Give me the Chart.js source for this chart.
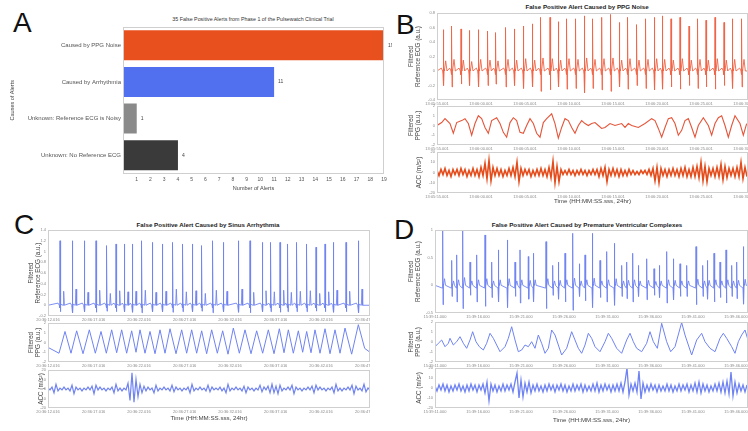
<!DOCTYPE html>
<html>
<head>
<meta charset="utf-8">
<script src="https://cdn.jsdelivr.net/npm/chart.js@4.4.1/dist/chart.umd.min.js"></script>
<style>
body { margin: 0; width: 748px; height: 431px; overflow: hidden; background: #fff; position: relative; font-family: "Liberation Sans", Arial, sans-serif; }
canvas { position: absolute; }
.letra { position: absolute; font-size: 28px; line-height: 1; color: #111; }
.titulo { position: absolute; font-size: 6.2px; line-height: 1; font-weight: bold; color: #222; white-space: nowrap; transform: translateX(-50%); }
</style>
</head>
<body>
<div class="letra" style="left:13px;top:9px">A</div>
<div class="letra" style="left:396px;top:11px">B</div>
<div class="letra" style="left:14px;top:211px">C</div>
<div class="letra" style="left:394px;top:216px">D</div>

<div class="titulo" style="left:253px;top:17px;font-weight:normal;font-size:5.3px;color:#333">35 False Positive Alerts from Phase 1 of the Pulsewatch Clinical Trial</div>
<div class="titulo" style="left:587px;top:4px">False Positive Alert Caused by PPG Noise</div>
<div class="titulo" style="left:208px;top:222px">False Positive Alert Caused by Sinus Arrhythmia</div>
<div class="titulo" style="left:587px;top:222px">False Positive Alert Caused by Premature Ventricular Complexes</div>

<canvas id="chartA"></canvas>
<canvas id="bEcg"></canvas><canvas id="bPpg"></canvas><canvas id="bAcc"></canvas>
<canvas id="cEcg"></canvas><canvas id="cPpg"></canvas><canvas id="cAcc"></canvas>
<canvas id="dEcg"></canvas><canvas id="dPpg"></canvas><canvas id="dAcc"></canvas>

<script>
Chart.defaults.font.family = '"Liberation Sans", Arial, sans-serif'
Chart.defaults.animation = false

// ---- Panel A: causas de las alertas
const causas = ["Caused by PPG Noise", "Caused by Arrhythmia", "Unknown: Reference ECG is Noisy", "Unknown: No Reference ECG"]
const numAlertas = [19, 11, 1, 4]
const coloresBarras = ["#e8501e", "#5070f0", "#8a8a8a", "#3a3a3a"]

// ---- Senales: eje x en muestras, etiquetas de tiempo por tick
const ticksB = [0, 132, 264, 396, 528, 660, 792, 924]
const etiquetasB = ["13:05:55.001", "13:06:00.001", "13:06:05.001", "13:06:10.001", "13:06:15.001", "13:06:20.001", "13:06:25.001", "13:06:30.001"]
const ticksC = [0, 137, 273, 410, 546, 683, 819, 956]
const etiquetasC = ["20:36:12.016", "20:36:17.016", "20:36:22.016", "20:36:27.016", "20:36:32.016", "20:36:37.016", "20:36:42.016", "20:36:47.016"]
const ticksD = [0, 129, 258, 387, 516, 645, 774, 903]
const etiquetasD = ["15:39:11.000", "15:39:16.000", "15:39:21.000", "15:39:26.000", "15:39:31.000", "15:39:36.000", "15:39:41.000", "15:39:46.000"]

// ECG B (latidos, pico R, valle S, onda T)
const latidosB = [19, 44, 72, 97, 124, 152, 176, 206, 232, 259, 286, 311, 339, 364, 389, 416, 442, 467, 494, 521, 547, 572, 599, 626, 652, 676, 702, 729, 756, 782, 807, 834, 861, 886, 914]
const picoRB = [0.57, 0.62, 0.58, 0.56, 0.57, 0.55, 0.53, 0.60, 0.58, 0.62, 0.65, 0.74, 0.74, 0.68, 0.72, 0.72, 0.76, 0.72, 0.74, 0.78, 0.67, 0.74, 0.64, 0.72, 0.74, 0.76, 0.72, 0.74, 0.62, 0.72, 0.70, 0.74, 0.67, 0.72, 0.72]
const valleSB = [-0.20, -0.22, -0.18, -0.20, -0.22, -0.20, -0.18, -0.22, -0.20, -0.24, -0.22, -0.28, -0.26, -0.22, -0.25, -0.24, -0.30, -0.24, -0.26, -0.28, -0.22, -0.25, -0.20, -0.24, -0.26, -0.25, -0.22, -0.25, -0.20, -0.24, -0.22, -0.25, -0.20, -0.24, -0.22]
const ondaTB = [0.14, 0.16, 0.15, 0.13, 0.16, 0.15, 0.14, 0.16, 0.15, 0.17, 0.15, 0.18, 0.17, 0.15, 0.17, 0.16, 0.18, 0.16, 0.17, 0.18, 0.15, 0.17, 0.15, 0.16, 0.17, 0.16, 0.15, 0.17, 0.15, 0.16, 0.15, 0.17, 0.15, 0.16, 0.16]

const ppgB = [[0, 0], [14, 0.3], [24, 0.7], [39, 0.2], [49, -0.8], [59, 0.3], [74, 0.5], [84, 0.7], [94, 0.2], [104, -1.0], [114, 0.2], [124, 1.0], [134, 0.7], [144, -0.2], [154, -0.8], [164, 0.5], [179, 0.8], [189, 0.2], [199, -0.7], [209, -1.2], [219, 0.3], [229, 0.8], [239, 0.5], [249, -0.7], [259, -0.8], [269, 0], [279, 0.7], [289, 0.2], [299, -0.8], [309, -1.2], [319, 0.3], [329, 0.7], [344, 1.2], [354, 0.2], [364, -1.3], [374, -0.2], [384, 0.7], [394, 0.5], [404, -0.2], [414, -0.8], [424, 0], [434, 0.5], [444, 0.2], [454, 0], [464, 0.2], [474, 0.3], [484, 0], [494, -0.3], [504, -0.2], [519, 0.2], [534, 0], [554, 0.2], [564, -0.2], [574, 0.2], [584, 0], [604, -0.2], [624, 0.2], [644, 0.7], [654, 0.5], [664, -0.3], [674, -1.2], [684, -0.2], [694, 0.7], [704, 0.8], [714, 0.2], [724, -1.0], [734, -0.5], [744, 0.5], [754, 0.7], [764, -0.2], [774, -1.2], [784, 0], [799, 0.8], [814, 0], [824, -1.0], [834, 0.2], [844, 0.8], [854, 1.0], [864, 0], [874, -1.2], [884, 0], [894, 1.0], [909, 0.2], [919, -1.0], [929, 0.2]]

const accB = [2, -3, 3, -2, 4, -3, 2, -4, 3, -2, 3, -3, 4, -2, 3, -4, 2, -3, 4, -3, 3, -4, 5, -3, 9, -6, 12, -8, 5, -3, 4, -3, 3, -4, 2, -3, 4, -3, 5, -4, 10, -9, 4, -3, 3, -2, 3, -4, 2, -3, 3, -3, 4, -3, 3, -4, 5, -5, 11, -10, 6, -9, 3, -2, 2, -2, 3, -2, 2, -3, 2, -2, 3, -2, 2, -3, 2, -2, 3, -2, 3, -4, 4, -3, 5, -9, 3, -3, 4, -3, 3, -4, 3, -3, 2, -3, 3, -2, 2, -2, 1, -2, 2, -1, 2, -2, 3, -3, 4, -8, 5, -10, 4, -3, 3, -4, 3, -3, 4, -3, 3, -4, 4, -3, 5, -4, 3, -4, 5, -4, 6, -5, 10, -8, 6, -9, 4, -3, 4, -4, 5, -4, 8, -7, 6, -5, 4, -3, 4, -4, 5, -4, 10, -6, 5, -4]

// ECG C
const latidosC = [36, 73, 109, 144, 176, 204, 229, 253, 281, 313, 343, 374, 404, 433, 461, 494, 526, 571, 606, 643, 668, 696, 719, 746, 776, 804, 831, 856, 894, 931]
const picoRC = [1.2, 1.2, 1.2, 1.2, 1.11, 1.14, 1.14, 1.14, 1.2, 1.17, 1.14, 1.17, 1.14, 1.14, 1.11, 1.2, 1.17, 1.2, 1.2, 1.17, 1.17, 1.17, 1.14, 1.17, 1.14, 1.08, 1.14, 1.17, 1.17, 1.2]
const valleSC = [-0.12, -0.14, -0.12, -0.13, -0.11, -0.12, -0.12, -0.13, -0.14, -0.12, -0.12, -0.13, -0.12, -0.12, -0.11, -0.14, -0.12, -0.13, -0.14, -0.12, -0.12, -0.13, -0.12, -0.12, -0.12, -0.11, -0.12, -0.13, -0.12, -0.14]
const ondaTC = [0.26, 0.30, 0.24, 0.28, 0.22, 0.27, 0.25, 0.26, 0.28, 0.24, 0.26, 0.30, 0.25, 0.27, 0.22, 0.28, 0.26, 0.30, 0.24, 0.27, 0.25, 0.28, 0.24, 0.26, 0.27, 0.22, 0.25, 0.28, 0.26, 0.30]

const ppgC = [[0, -0.5], [33, -1.1], [51, 1.13], [69, -1.1], [86, 1.2], [105, -1.15], [124, 1.3], [142, -1.1], [159, 1.13], [175, -1.1], [191, 1.3], [206, -1.05], [221, 1.3], [236, -1.1], [251, 1.2], [264, -1.0], [276, 1.3], [291, -1.1], [306, 1.13], [321, -1.15], [336, 1.3], [351, -1.1], [366, 1.41], [384, -1.15], [401, 1.3], [416, -1.1], [431, 1.3], [446, -1.1], [461, 1.2], [476, -1.15], [491, 1.3], [508, -1.1], [524, 1.2], [540, -1.2], [556, 1.48], [574, -1.1], [591, 1.3], [609, -1.15], [626, 1.2], [644, -1.1], [661, 1.3], [678, -1.15], [694, 1.41], [708, -1.05], [721, 1.3], [736, -1.1], [751, 1.2], [764, -1.0], [776, 1.13], [789, -1.05], [801, 1.3], [816, -1.1], [831, 1.41], [846, -1.15], [861, 1.3], [876, -1.1], [891, 1.48], [911, -1.2], [931, 1.83], [950, -0.6], [966, -1.0]]

const accC = [1, -1, 2, -4, 5, -2, 1, -1, 2, -1, 1, -2, 4, -5, 2, -1, 1, -2, 1, -1, 2, -1, 3, -5, 4, -1, 2, -1, 1, -2, 1, -1, 2, -4, 5, -2, 1, -2, 1, -1, 6, -12, 17, -14, 10, -8, 5, -4, 3, -2, 2, -1, 1, -4, 4, -2, 1, -1, 2, -1, 1, -2, 4, -3, 2, -1, 1, -2, 1, -1, 2, -4, 5, -2, 1, -1, 2, -1, 1, -2, 4, -3, 2, -1, 1, -1, 2, -2, 1, -4, 5, -2, 1, -1, 2, -1, 1, -2, 3, -4, 2, -1, 1, -2, 1, -1, 4, -3, 2, -1, 3, -4, 5, -4, 3, -5, 4, -2, 1, -1, 2, -1, 4, -5, 2, -1, 1, -2, 1, -1, 2, -1, 3, -4, 4, -1, 2, -1, 1, -2, 1, -1, 2, -4, 5, -2, 1, -2, 1, -1, 2, -1, 4, -5, 3, -1, 1, -2, 5, -3, 1, -1]

// ECG D (extrasistoles)
const latidosD = [23, 50, 65, 83, 105, 125, 150, 170, 190, 217, 240, 255, 280, 295, 333, 353, 370, 390, 413, 433, 450, 472, 495, 515, 538, 560, 575, 593, 610, 635, 657, 673, 695, 715, 735, 755, 783, 803, 817, 837, 855, 873, 890, 905, 925]
const picoRD = [1.0, 0.45, 0.55, 1.0, 0.42, 0.55, 0.91, 0.42, 0.64, 0.82, 0.42, 0.64, 0.52, 0.58, 0.79, 0.36, 0.42, 0.58, 0.94, 0.39, 0.55, 0.94, 0.45, 0.61, 0.76, 0.36, 0.42, 0.58, 0.36, 0.48, 0.30, 0.36, 0.61, 0.48, 0.39, 0.36, 0.70, 0.36, 0.45, 0.58, 0.42, 0.64, 0.36, 0.42, 0.70]
const valleSD = [-0.35, -0.20, -0.30, -0.42, -0.18, -0.30, -0.38, -0.22, -0.30, -0.40, -0.20, -0.32, -0.25, -0.30, -0.42, -0.18, -0.25, -0.30, -0.45, -0.20, -0.28, -0.40, -0.22, -0.30, -0.36, -0.20, -0.24, -0.30, -0.20, -0.26, -0.18, -0.22, -0.32, -0.26, -0.20, -0.20, -0.35, -0.20, -0.25, -0.30, -0.22, -0.32, -0.20, -0.24, -0.34]
const ondaTD = [0.12, 0.08, 0.10, 0.14, 0.08, 0.10, 0.12, 0.08, 0.10, 0.12, 0.08, 0.10, 0.09, 0.10, 0.12, 0.08, 0.09, 0.10, 0.13, 0.08, 0.10, 0.13, 0.08, 0.10, 0.12, 0.08, 0.09, 0.10, 0.08, 0.09, 0.07, 0.08, 0.10, 0.09, 0.08, 0.08, 0.11, 0.08, 0.09, 0.10, 0.08, 0.10, 0.08, 0.09, 0.11]

const ppgD = [[0, -0.47], [10, -0.13], [20, 0.2], [30, -0.47], [40, -0.13], [45, 0.37], [55, -0.3], [65, 0.03], [75, 0.53], [85, -0.13], [95, -0.63], [105, 0.2], [113, 1.03], [123, 0.03], [133, -0.47], [145, -0.8], [155, -0.13], [165, 0.87], [175, 0.37], [185, -0.3], [195, -0.97], [210, -0.47], [220, 0.37], [230, 1.53], [240, 0.2], [250, -0.97], [260, -0.8], [270, -0.3], [280, -0.47], [290, 0.03], [300, -0.63], [310, 0.7], [320, -0.13], [330, -1.13], [340, -0.63], [350, 1.2], [360, 0.7], [370, -0.3], [380, -1.3], [395, -0.63], [410, 1.03], [420, 0.2], [430, -0.63], [440, -1.13], [450, -0.3], [460, 0.87], [470, 0.37], [480, -0.47], [495, -0.97], [510, 0.03], [520, 0.87], [530, 0.37], [545, -0.63], [560, -1.13], [575, 0.2], [585, 0.87], [595, 0.03], [605, -0.63], [620, -0.97], [635, -0.13], [645, 1.03], [655, 0.03], [667, -0.63], [680, 1.87], [695, 0.03], [707, -0.97], [720, -0.47], [740, 1.95], [750, 0.7], [760, -0.3], [770, -1.3], [785, 0.2], [800, 0.87], [810, 0.03], [825, -0.63], [840, -0.97], [855, 0.37], [865, 0.87], [875, 0.37], [890, -0.47], [900, -1.13], [910, 0.03], [920, 0.7], [930, 1.2], [939, 0.2]]

const accD = [2, -3, 3, -2, 4, -3, 3, -4, 2, -3, 3, -2, 4, -3, 2, -4, 3, -3, 4, -2, 3, -4, 3, -2, 4, -5, 6, -13, 4, -3, 3, -4, 2, -3, 4, -3, 3, -2, 4, -4, 6, 15, -10, 8, -9, 5, -4, 6, -5, 3, -3, 4, -3, 2, -4, 3, -3, 4, -2, 3, -4, 3, -2, 4, -3, 3, -4, 2, -3, 4, -3, 3, -2, 4, -4, 3, -3, 2, -3, 4, -3, 5, -4, 3, -3, 4, -2, 3, -4, 3, -3, 4, -3, 5, -4, 6, 20, -7, 4, -3, 5, -4, 17, -11, 5, -4, 3, -3, 4, -2, 3, -4, 3, -3, 2, -3, 4, -3, 3, -4, 2, -3, 4, -3, 3, -2, 4, -4, 3, -3, 5, -4, 6, -5, 4, -3, 3, -4, 2, -3, 4, -3, 5, -4, 6, -5, 7, -6, 16, -8, 6, -5, 4, -3, 3, -4, 3]

const pasoAcc = 6 // muestras entre valores de ACC

// ---- utilidades
const caja = {
    id: "caja",
    afterDraw(chart) {
        const a = chart.chartArea, ctx = chart.ctx
        ctx.save()
        ctx.strokeStyle = "#cfcfcf"
        ctx.lineWidth = 1
        ctx.strokeRect(Math.round(a.left) + 0.5, Math.round(a.top) + 0.5, Math.round(a.right - a.left) - 1, Math.round(a.bottom - a.top) - 1)
        ctx.restore()
    }
}

function colocar(id, izq, arriba, ancho, alto) {
    const cv = document.getElementById(id)
    cv.width = ancho
    cv.height = alto
    cv.style.left = izq + "px"
    cv.style.top = arriba + "px"
    return cv
}

// arma la traza de ECG a partir de los latidos leidos
function trazaEcg(latidos, picoR, valleS, ondaT, forma) {
    let pts = [{x: 0, y: 0}]
    latidos.forEach((b, i) => {
        if (forma.p) pts.push({x: b - forma.p, y: 0.04}, {x: b - 2, y: 0})
        pts.push({x: b - 1, y: -0.05}, {x: b, y: picoR[i]}, {x: b + 1.2, y: valleS[i]}, {x: b + 2.2, y: 0.02},
            {x: b + forma.t - forma.tw, y: 0}, {x: b + forma.t, y: ondaT[i]}, {x: b + forma.t + forma.tw, y: 0})
    })
    pts.push({x: 2000, y: 0})
    return pts
}

function fmt(v) {
    if (Math.abs(v) < 1e-9) return "0"
    return Number.isInteger(v) ? String(v) : v.toFixed(1)
}

// una subgrafica de senal con eje de tiempo
function senal(id, c) {
    const cv = colocar(id, c.izq - c.anchoY, c.arriba - 3, c.anchoY + c.ancho, 3 + c.alto + c.altoX)
    new Chart(cv, {
        type: "line",
        data: {datasets: [{data: c.datos, borderColor: c.color, borderWidth: c.grosor || 0.9, pointRadius: 0, tension: 0}]},
        options: {
            responsive: false,
            maintainAspectRatio: false,
            layout: {padding: {top: 3, left: 0, right: 0, bottom: 0}},
            plugins: {legend: {display: false}, tooltip: {enabled: false}},
            scales: {
                x: {
                    type: "linear", min: 0, max: c.xMax,
                    grid: {display: false, drawTicks: false}, border: {display: false},
                    afterBuildTicks: s => { s.ticks = c.ticks.map(v => ({value: v})) },
                    ticks: {autoSkip: false, maxRotation: 0, font: {size: 4}, color: "#8a8a8a", padding: 1,
                        callback: (v, i) => c.etiquetas[i]},
                    title: {display: !!c.tituloX, text: c.tituloX, font: {size: 6.2}, color: "#444", padding: {top: 0, bottom: 0.3}},
                    afterFit: s => { s.height = c.altoX; s.paddingLeft = 0; s.paddingRight = 0 }
                },
                y: {
                    min: c.yMin, max: c.yMax,
                    grid: {display: false, drawTicks: false}, border: {display: false},
                    ticks: {stepSize: c.paso, includeBounds: false, font: {size: 4}, color: "#8a8a8a", padding: 2, callback: v => fmt(v)},
                    title: {display: true, text: c.tituloY, font: {size: 6.3}, color: "#444", padding: {top: c.padTitulo}},
                    afterFit: s => { s.width = c.anchoY; s.paddingTop = 0; s.paddingBottom = 0 }
                }
            }
        },
        plugins: [caja]
    })
}

// ---- Panel A
const valores = {
    id: "valores",
    afterDatasetsDraw(chart) {
        const ctx = chart.ctx
        ctx.save()
        ctx.font = '5px "Liberation Sans", Arial'
        ctx.fillStyle = "#444"
        ctx.textBaseline = "middle"
        chart.getDatasetMeta(0).data.forEach((barra, i) => ctx.fillText(numAlertas[i], barra.x + 4, barra.y))
        ctx.restore()
    }
}

new Chart(colocar("chartA", 0, 25, 392, 171), {
    type: "bar",
    data: {labels: causas, datasets: [{data: numAlertas, backgroundColor: coloresBarras, barPercentage: 0.82, categoryPercentage: 1}]},
    options: {
        indexAxis: "y",
        responsive: false,
        layout: {padding: {top: 2, right: 8}},
        plugins: {legend: {display: false}, tooltip: {enabled: false}},
        scales: {
            x: {
                min: 0, max: 19,
                grid: {display: false, drawTicks: false}, border: {display: false},
                ticks: {stepSize: 1, font: {size: 5}, color: "#555", padding: 3, callback: v => v === 0 ? "" : v},
                title: {display: true, text: "Number of Alerts", font: {size: 5.5}, color: "#444", padding: {top: 0, bottom: 4.7}},
                afterFit: s => { s.height = 22.5; s.paddingLeft = 0; s.paddingRight = 0 }
            },
            y: {
                grid: {display: false, drawTicks: false}, border: {display: false},
                ticks: {font: {size: 6}, color: "#555", padding: 2},
                title: {display: true, text: "Causes of Alerts", font: {size: 5.5}, color: "#444", padding: {top: 9.2}},
                afterFit: s => { s.width = 123; s.paddingTop = 0; s.paddingBottom = 0 }
            }
        }
    },
    plugins: [caja, valores]
})

// ---- Panel B
const rojoB = "#ef6446"
senal("bEcg", {izq: 437, arriba: 13, ancho: 311, alto: 87, anchoY: 32, altoX: 6, xMax: 933, ticks: ticksB, etiquetas: etiquetasB,
    datos: trazaEcg(latidosB, picoRB, valleSB, ondaTB, {p: 6, t: 7, tw: 4}), color: rojoB,
    yMin: -0.4, yMax: 0.8, paso: 0.2, tituloY: ["Filtered", "Reference ECG (a.u.)"], padTitulo: 2})
senal("bPpg", {izq: 437, arriba: 106, ancho: 311, alto: 39, anchoY: 32, altoX: 6, xMax: 933, ticks: ticksB, etiquetas: etiquetasB,
    datos: ppgB.map(p => ({x: p[0], y: p[1]})), color: "#e4553a", grosor: 1.1,
    yMin: -2, yMax: 2, paso: 1, tituloY: ["Filtered", "PPG (a.u.)"], padTitulo: 2})
senal("bAcc", {izq: 437, arriba: 152, ancho: 311, alto: 41, anchoY: 32, altoX: 12, xMax: 933, ticks: ticksB, etiquetas: etiquetasB,
    datos: accB.map((v, i) => ({x: i * pasoAcc, y: v})), color: "#e44c1c", grosor: 1.6,
    yMin: -20, yMax: 20, paso: 10, tituloY: "ACC (m/s²)", padTitulo: 10, tituloX: "Time (HH:MM:SS.sss, 24hr)"})

// ---- Panel C
const azul = "#6f83f2"
senal("cEcg", {izq: 48, arriba: 230, ancho: 322, alto: 86, anchoY: 34, altoX: 6, xMax: 966, ticks: ticksC, etiquetas: etiquetasC,
    datos: trazaEcg(latidosC, picoRC, valleSC, ondaTC, {p: 6, t: 11, tw: 2}), color: azul,
    yMin: -0.2, yMax: 1.4, paso: 0.2, tituloY: ["Filtered", "Reference ECG (a.u.)"], padTitulo: 13})
senal("cPpg", {izq: 48, arriba: 323, ancho: 322, alto: 39, anchoY: 34, altoX: 6, xMax: 966, ticks: ticksC, etiquetas: etiquetasC,
    datos: ppgC.map(p => ({x: p[0], y: p[1]})), color: azul, grosor: 1,
    yMin: -2, yMax: 2, paso: 1, tituloY: ["Filtered", "PPG (a.u.)"], padTitulo: 13})
senal("cAcc", {izq: 48, arriba: 370, ancho: 322, alto: 38, anchoY: 34, altoX: 14, xMax: 966, ticks: ticksC, etiquetas: etiquetasC,
    datos: accC.map((v, i) => ({x: i * pasoAcc, y: v})), color: azul, grosor: 1.2,
    yMin: -20, yMax: 20, paso: 10, tituloY: "ACC (m/s²)", padTitulo: 23, tituloX: "Time (HH:MM:SS.sss, 24hr)"})

// ---- Panel D
senal("dEcg", {izq: 435, arriba: 230, ancho: 313, alto: 83, anchoY: 30, altoX: 6, xMax: 939, ticks: ticksD, etiquetas: etiquetasD,
    datos: trazaEcg(latidosD, picoRD, valleSD, ondaTD, {p: 0, t: 5.5, tw: 3}), color: azul,
    yMin: -0.5, yMax: 1, paso: 0.5, tituloY: ["Filtered", "Reference ECG (a.u.)"], padTitulo: 2})
senal("dPpg", {izq: 435, arriba: 322, ancho: 313, alto: 40, anchoY: 30, altoX: 6, xMax: 939, ticks: ticksD, etiquetas: etiquetasD,
    datos: ppgD.map(p => ({x: p[0], y: p[1]})), color: azul, grosor: 1,
    yMin: -2, yMax: 2, paso: 1, tituloY: ["Filtered", "PPG (a.u.)"], padTitulo: 2})
senal("dAcc", {izq: 435, arriba: 368, ancho: 313, alto: 40, anchoY: 30, altoX: 16, xMax: 939, ticks: ticksD, etiquetas: etiquetasD,
    datos: accD.map((v, i) => ({x: i * pasoAcc, y: v})), color: azul, grosor: 1.3,
    yMin: -20, yMax: 20, paso: 10, tituloY: "ACC (m/s²)", padTitulo: 10, tituloX: "Time (HH:MM:SS.sss, 24hr)"})
</script>
</body>
</html>
